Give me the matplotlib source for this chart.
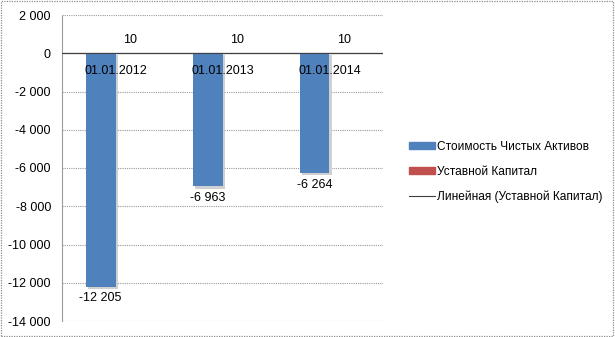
import matplotlib.pyplot as plt
import matplotlib.patheffects as pe
import numpy as np
from matplotlib.lines import Line2D
from matplotlib.patches import Patch, Rectangle

plt.rcParams['font.family'] = ['Liberation Sans', 'DejaVu Sans']

dates = ['01.01.2012', '01.01.2013', '01.01.2014']
net_assets = [-12205, -6963, -6264]
charter_capital = [10, 10, 10]

blue = '#4F81BD'
red = '#C0504D'

fig = plt.figure(figsize=(6.15, 3.37), dpi=100)
fig.patches.append(Rectangle((0.002, 0.003), 0.995, 0.993, transform=fig.transFigure,
                             fill=False, ec='#8c8c8c', lw=0.9, ls=(0, (1, 1))))
ax = fig.add_axes([62 / 615, 16 / 337, 321 / 615, 306 / 337])

x = np.arange(len(dates))
w = 0.28
shadow = [pe.SimplePatchShadow(offset=(1.5, -1.5), shadow_rgbFace='#d0d0d0', alpha=1), pe.Normal()]
b1 = ax.bar(x - w / 2, net_assets, w, color=blue, zorder=3, path_effects=shadow)
b2 = ax.bar(x + w / 2, charter_capital, w, color=red, zorder=3)

# linear trend over the charter capital
k, c = np.polyfit(x, charter_capital, 1)
xt = np.array([-0.5, len(dates) - 0.5])
ax.plot(xt, k * xt + c, color='#404040', lw=0.8, zorder=4)

for xi, v in zip(x, net_assets):
    ax.text(xi - w / 2, v - 300, f'{v:,}'.replace(',', ' '),
            ha='center', va='top', fontsize=9)
for xi, v in zip(x, charter_capital):
    ax.text(xi + w / 2, v + 350, str(v), ha='center', va='bottom', fontsize=9)
for xi, d in zip(x, dates):
    ax.text(xi, -600, d, ha='center', va='top', fontsize=9, zorder=5)

ax.set_xlim(-0.5, len(dates) - 0.5)
ax.set_ylim(-14000, 2000)
ticks = np.arange(-14000, 2001, 2000)
ax.set_yticks(ticks)
ax.set_yticklabels([f'{t:,}'.replace(',', ' ') for t in ticks], fontsize=9)
ax.set_xticks([])
ax.yaxis.grid(True, color='#9a9a9a', lw=0.8, ls=(0, (1, 1)), zorder=0)
ax.axhline(0, color='#808080', lw=0.9, zorder=2)
ax.tick_params(axis='y', length=0, pad=8)
for s in ['top', 'right', 'bottom']:
    ax.spines[s].set_visible(False)
ax.spines['left'].set_color('#9a9a9a')
ax.spines['left'].set_linestyle((0, (1, 1)))

handles = [Patch(color=blue), Patch(color=red), Line2D([], [], color='#404040', lw=0.8)]
labels = ['Стоимость Чистых Активов', 'Уставной Капитал', 'Линейная (Уставной Капитал)']
fig.legend(handles, labels, loc='center left', bbox_to_anchor=(398 / 615, 0.49),
           frameon=False, fontsize=8.6, handlelength=2.2, handleheight=0.5,
           handletextpad=0.2, labelspacing=1.05)

fig.savefig('out.png', dpi=100)
